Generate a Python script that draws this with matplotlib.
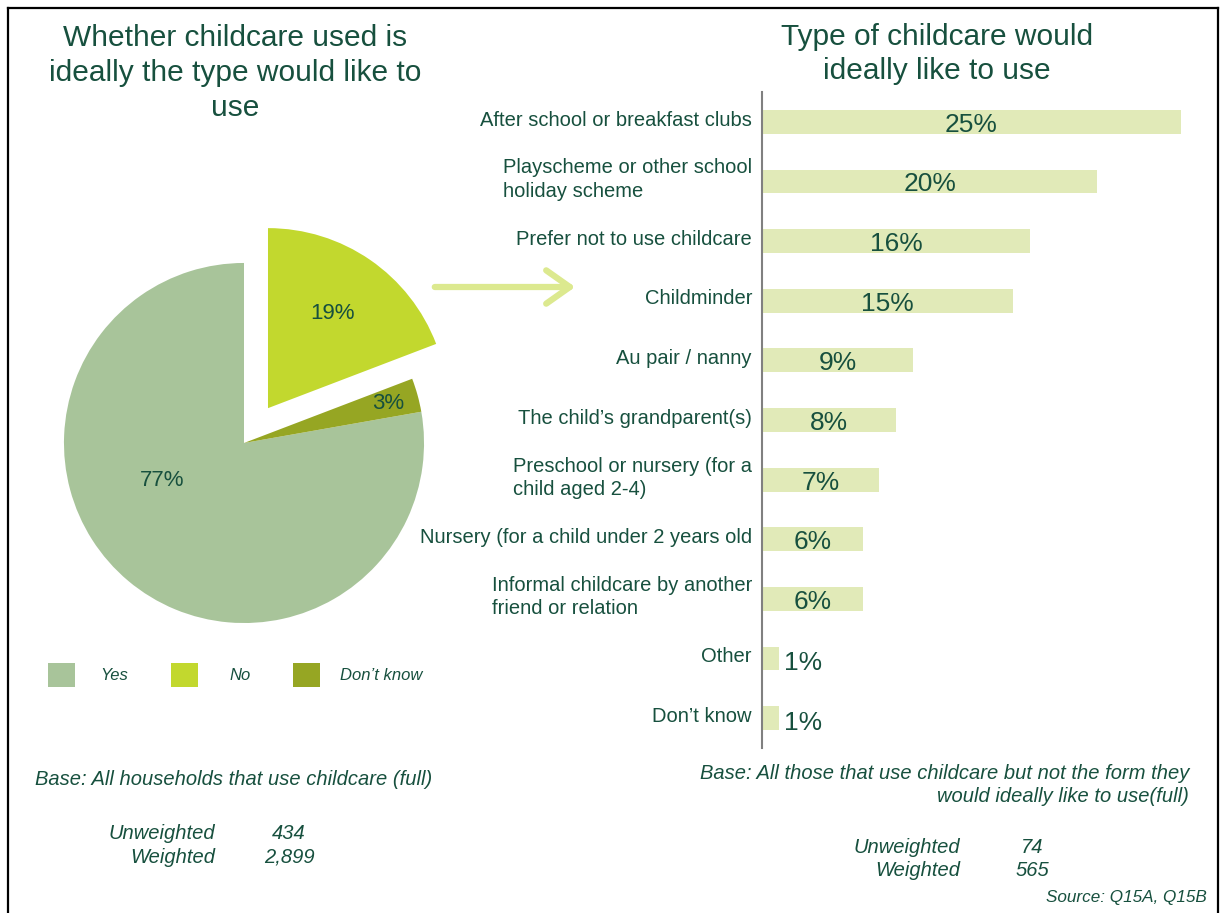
import matplotlib
matplotlib.use("Agg")
import matplotlib.pyplot as plt
from matplotlib.patches import FancyArrowPatch, Rectangle
from matplotlib.lines import Line2D

plt.rcParams['font.family'] = ['Liberation Sans', 'DejaVu Sans']

# pie: whether the childcare used is the preferred type
pie_labels = ["Yes", "No", "Don\u2019t know"]
pie_values = [77, 19, 3]
pie_colors = ['#A8C49A', '#C2D82E', '#96A623']

# bars: type of childcare parents would ideally like to use
categories = [
    "After school or breakfast clubs",
    "Playscheme or other school\nholiday scheme",
    "Prefer not to use childcare",
    "Childminder",
    "Au pair / nanny",
    "The child\u2019s grandparent(s)",
    "Preschool or nursery (for a\nchild aged 2-4)",
    "Nursery (for a child under 2 years old",
    "Informal childcare by another\nfriend or relation",
    "Other",
    "Don\u2019t know",
]
shares = [25, 20, 16, 15, 9, 8, 7, 6, 6, 1, 1]

TXT = '#17503E'
BAR = '#E1EAB8'
W, H = 1225, 913

fig = plt.figure(figsize=(W / 100, H / 100), dpi=100)


def fx(px):
    return px / W


def fy(py):
    return 1 - py / H


# outer frame (left, top, right)
for xs, ys in [((8, 8), (8, 913)), ((8, 1218), (8, 8)), ((1218, 1218), (8, 913))]:
    fig.add_artist(Line2D([fx(x) for x in xs], [fy(y) for y in ys],
                          transform=fig.transFigure, color='black', lw=1.6))

# ---- pie ----
ax_pie = fig.add_axes([fx(24), fy(663), 440 / W, 440 / H])
order = [0, 2, 1]  # Yes, Don't know, No going anticlockwise from 12 o'clock
vals = [pie_values[i] for i in order]
cols = [pie_colors[i] for i in order]
explode = [0, 0, 0.235]
wedges, _ = ax_pie.pie(vals, colors=cols, startangle=90, counterclock=True,
                       explode=explode, radius=1.0,
                       wedgeprops=dict(linewidth=0))
ax_pie.set_xlim(-1.222, 1.222)
ax_pie.set_ylim(-1.222, 1.222)
ax_pie.set_aspect('equal')
ax_pie.axis('off')

label_pos = {0: (-0.456, -0.211), 1: (0.494, 0.717), 2: (0.80, 0.217)}
for i, v in enumerate(pie_values):
    x, y = label_pos[i]
    ax_pie.text(x, y, f"{v}%", ha='center', va='center', fontsize=16, color=TXT)

fig.text(fx(235), fy(73), "Whether childcare used is\nideally the type would like to\nuse",
         ha='center', va='center', fontsize=21.5, color=TXT, linespacing=1.3)

# arrow from the "No" slice to the bar chart
fig.add_artist(FancyArrowPatch((fx(432), fy(287)), (fx(578), fy(287)),
                               transform=fig.transFigure,
                               arrowstyle='->,head_length=0.85,head_width=0.6',
                               mutation_scale=20, lw=4.5, color='#DCE98F',
                               capstyle='round', joinstyle='round'))

# legend
leg_x = [48, 171, 293]
txt_x = [100, 229, 340]
for i, lab in enumerate(pie_labels):
    fig.add_artist(Rectangle((fx(leg_x[i]), fy(687)), 27 / W, 24 / H,
                             transform=fig.transFigure, color=pie_colors[i], lw=0))
    fig.text(fx(txt_x[i]), fy(676), lab, ha='left', va='center',
             fontsize=12, style='italic', color=TXT)

fig.text(fx(35), fy(779), "Base: All households that use childcare (full)",
         ha='left', va='center', fontsize=14.5, style='italic', color=TXT)
fig.text(fx(215), fy(833), "Unweighted", ha='right', va='center',
         fontsize=14.5, style='italic', color=TXT)
fig.text(fx(215), fy(857), "Weighted", ha='right', va='center',
         fontsize=14.5, style='italic', color=TXT)
fig.text(fx(289), fy(833), "434", ha='center', va='center',
         fontsize=14.5, style='italic', color=TXT)
fig.text(fx(289), fy(857), "2,899", ha='center', va='center',
         fontsize=14.5, style='italic', color=TXT)

# ---- bars ----
ax_bar = fig.add_axes([fx(762), fy(748), 438 / W, 656 / H])
px_per_pct = 16.76
ypos = list(range(len(categories)))
ax_bar.barh(ypos, shares, height=0.4, color=BAR, linewidth=0)
ax_bar.set_xlim(0, 438 / px_per_pct)
ax_bar.set_ylim(len(categories) - 0.5, -0.5)
for s in ['top', 'right', 'bottom']:
    ax_bar.spines[s].set_visible(False)
ax_bar.spines['left'].set_color('#808080')
ax_bar.spines['left'].set_linewidth(1.5)
ax_bar.set_xticks([])
ax_bar.set_yticks([])

for y, (cat, v) in enumerate(zip(categories, shares)):
    ax_bar.text(-10 / px_per_pct, y - 0.03, cat, ha='right', va='center',
                multialignment='left', fontsize=14.5, color=TXT, linespacing=1.3)
    if v >= 3:
        ax_bar.text(v / 2, y + 0.05, f"{v}%", ha='center', va='center',
                    fontsize=19, color=TXT)
    else:
        ax_bar.text(v + 5 / px_per_pct, y + 0.08, f"{v}%", ha='left', va='center',
                    fontsize=19, color=TXT)

fig.text(fx(937), fy(54), "Type of childcare would\nideally like to use",
         ha='center', va='center', fontsize=21.5, color=TXT, linespacing=1.3)

fig.text(fx(1189), fy(785), "Base: All those that use childcare but not the form they\n"
         "would ideally like to use(full)", ha='right', va='center',
         fontsize=14.5, style='italic', color=TXT, linespacing=1.25)
fig.text(fx(960), fy(847), "Unweighted", ha='right', va='center',
         fontsize=14.5, style='italic', color=TXT)
fig.text(fx(960), fy(870), "Weighted", ha='right', va='center',
         fontsize=14.5, style='italic', color=TXT)
fig.text(fx(1032), fy(847), "74", ha='center', va='center',
         fontsize=14.5, style='italic', color=TXT)
fig.text(fx(1032), fy(870), "565", ha='center', va='center',
         fontsize=14.5, style='italic', color=TXT)
fig.text(fx(1207), fy(897), "Source: Q15A, Q15B", ha='right', va='center',
         fontsize=12.3, style='italic', color=TXT)

fig.savefig("out.png", dpi=100)
